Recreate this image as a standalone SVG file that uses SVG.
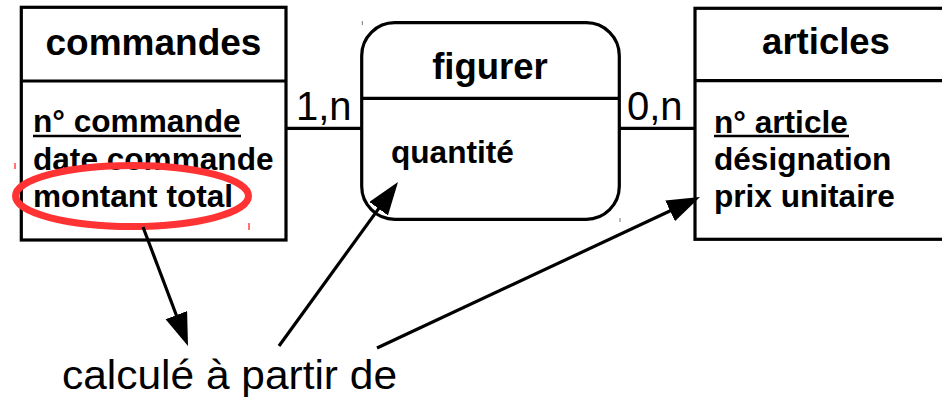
<svg xmlns="http://www.w3.org/2000/svg" width="942" height="399" viewBox="0 0 942 399">
<style>
.box{fill:#fff;stroke:#000;stroke-width:3.2}
.div{stroke:#000;stroke-width:3.2}
.title{font-family:"Liberation Sans",Arial,sans-serif;font-weight:bold;font-size:36.5px;text-anchor:middle;fill:#000}
.attr{font-family:"Liberation Sans",Arial,sans-serif;font-weight:bold;font-size:31.6px;fill:#000}
.card{font-family:"Liberation Sans",Arial,sans-serif;font-size:40px;fill:#000}
.ul{stroke:#000;stroke-width:2.4}
.link{stroke:#000;stroke-width:3.2;fill:none}
.arr{stroke:#000;stroke-width:3.2;fill:none;marker-end:url(#ah)}
.tick{stroke:#f44;stroke-width:1.5}
.btick{stroke:#777;stroke-width:1}
</style>
<defs>
<marker id="ah" markerUnits="userSpaceOnUse" markerWidth="34" markerHeight="24" refX="18" refY="11.5" orient="auto">
<path d="M0,0 L33,11.5 L0,23 z" fill="#000"/>
</marker>
</defs>
<rect width="942" height="399" fill="#fff"/>
<g id="connectors">
<line class="link" x1="286" y1="128.3" x2="362" y2="128.3"/>
<line class="link" x1="620" y1="128.3" x2="695" y2="128.3"/>
<text class="card" x="296" y="120">1,n</text>
<text class="card" x="627" y="120">0,n</text>
</g>
<g id="commandes">
<rect class="box" x="21.3" y="7.3" width="264.7" height="232.7"/>
<line class="div" x1="21.3" y1="81" x2="286" y2="81"/>
<text class="title" x="153.5" y="55" style="font-size:37px">commandes</text>
<text class="attr" x="33" y="131.7">n° commande</text>
<line class="ul" x1="33" y1="136" x2="241" y2="136"/>
<text class="attr" x="33" y="170">date commande</text>
<text class="attr" x="33" y="206.7">montant total</text>
</g>
<g id="figurer">
<rect class="box" x="361.7" y="22.7" width="257.6" height="196.6" rx="33" ry="33"/>
<line class="div" x1="361.7" y1="98.3" x2="619.3" y2="98.3"/>
<text class="title" x="490" y="79">figurer</text>
<text class="attr" x="391" y="163">quantité</text>
</g>
<g id="articles">
<rect class="box" x="695" y="8.3" width="270" height="231"/>
<line class="div" x1="695" y1="80.7" x2="965" y2="80.7"/>
<text class="title" x="826" y="54">articles</text>
<text class="attr" x="714" y="132.7">n° article</text>
<line class="ul" x1="714" y1="136" x2="849" y2="136"/>
<text class="attr" x="714" y="170">désignation</text>
<text class="attr" x="714" y="207">prix unitaire</text>
</g>
<g id="highlight">
<ellipse cx="132" cy="196" rx="116.5" ry="30.5" fill="none" stroke="#f33" stroke-width="7"/>
<line class="tick" x1="15" y1="163" x2="15" y2="169"/>
<line class="tick" x1="249" y1="223" x2="249" y2="230"/>
<line class="btick" x1="362.3" y1="21" x2="362.3" y2="25"/>
<line class="btick" x1="620" y1="218" x2="620" y2="222"/>
</g>
<g id="annotation">
<line class="arr" x1="143" y1="227" x2="182.7" y2="332"/>
<line class="arr" x1="279" y1="346" x2="389.2" y2="194.1"/>
<line class="arr" x1="377" y1="348" x2="686.4" y2="203.3"/>
<text x="62" y="389" textLength="335" lengthAdjust="spacingAndGlyphs" style="font-family:'Liberation Sans',Arial,sans-serif;font-size:40.5px;fill:#000">calculé à partir de</text>
</g>
</svg>
